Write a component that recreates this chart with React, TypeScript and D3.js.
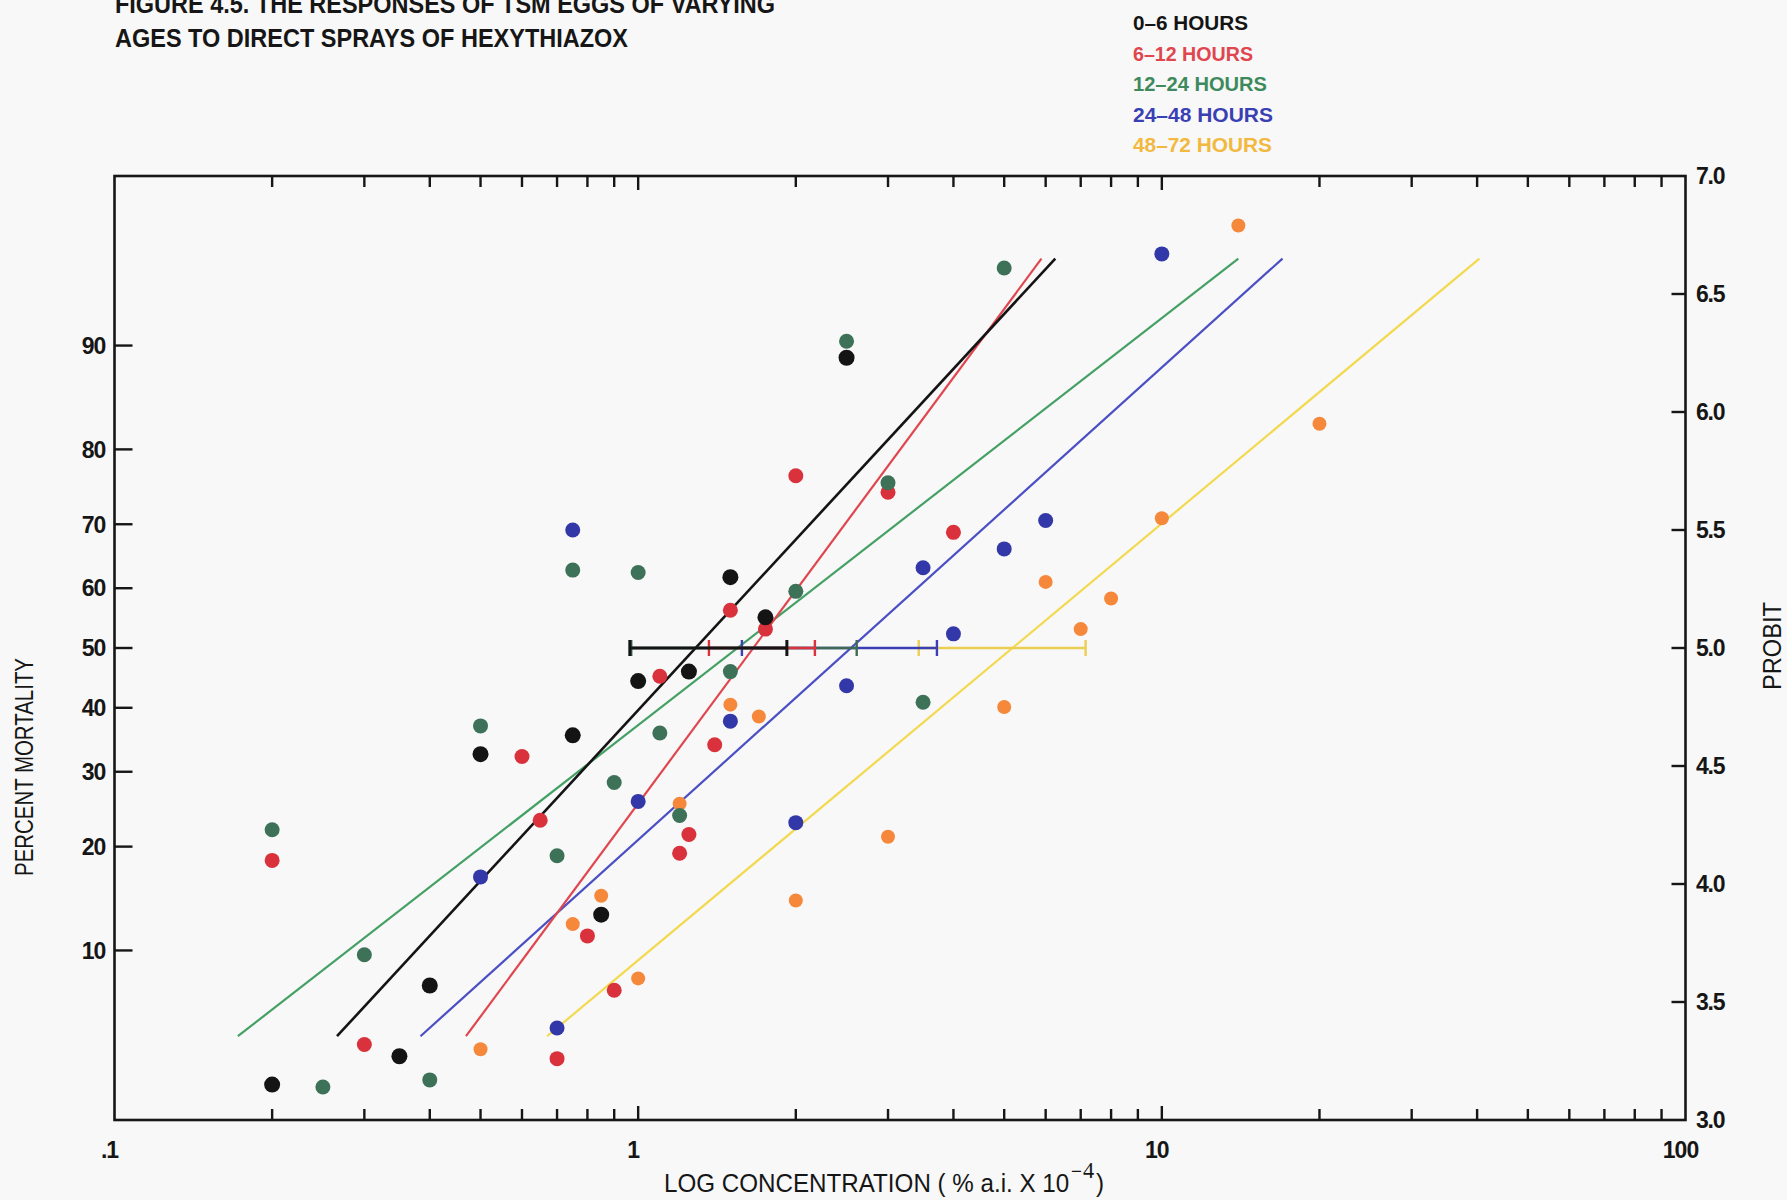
import React, { useEffect } from 'react';
import * as d3 from 'd3';

const WIDTH = 1787;
const HEIGHT = 1200;

// Series (egg age classes)
const seriesLabels = ['0–6 HOURS', '6–12 HOURS', '12–24 HOURS', '24–48 HOURS', '48–72 HOURS'];
const dotColors = ['#141414', '#d9323c', '#3e7258', '#3338a8', '#f5883a'];
const lineColors = ['#141414', '#e0464e', '#45a065', '#4a4fc4', '#f3d94e'];
const barColors = ['#141414', '#d9323c', '#3e6a54', '#3a40b4', '#eccf52'];
const legendColors = ['#141414', '#e0464e', '#3e8a5c', '#3a40b4', '#f2b840'];

// Observed responses: concentration (% a.i. x 10^-4) and response in probits
const conc06 = [0.2, 0.35, 0.4, 0.5, 0.75, 0.85, 1.0, 1.25, 1.5, 1.75, 2.5];
const probit06 = [3.15, 3.27, 3.57, 4.55, 4.63, 3.87, 4.86, 4.9, 5.3, 5.13, 6.23];

const conc612 = [0.2, 0.3, 0.6, 0.65, 0.7, 0.8, 0.9, 1.1, 1.2, 1.25, 1.4, 1.5, 1.75, 2.0, 3.0, 4.0];
const probit612 = [4.1, 3.32, 4.54, 4.27, 3.26, 3.78, 3.55, 4.88, 4.13, 4.21, 4.59, 5.16, 5.08, 5.73, 5.66, 5.49];

const conc1224 = [0.2, 0.25, 0.3, 0.4, 0.5, 0.7, 0.75, 0.9, 1.0, 1.1, 1.2, 1.5, 2.0, 2.5, 3.0, 3.5, 5.0];
const probit1224 = [4.23, 3.14, 3.7, 3.17, 4.67, 4.12, 5.33, 4.43, 5.32, 4.64, 4.29, 4.9, 5.24, 6.3, 5.7, 4.77, 6.61];

const conc2448 = [0.5, 0.7, 0.75, 1.0, 1.5, 2.0, 2.5, 3.5, 4.0, 5.0, 6.0, 10.0];
const probit2448 = [4.03, 3.39, 5.5, 4.35, 4.69, 4.26, 4.84, 5.34, 5.06, 5.42, 5.54, 6.67];

const conc4872 = [0.5, 0.75, 0.85, 1.0, 1.2, 1.5, 1.7, 2.0, 3.0, 5.0, 6.0, 7.0, 8.0, 10.0, 14.0, 20.0];
const probit4872 = [3.3, 3.83, 3.95, 3.6, 4.34, 4.76, 4.71, 3.93, 4.2, 4.75, 5.28, 5.08, 5.21, 5.55, 6.79, 5.95];

// Fitted probit lines: concentrations where each line starts and ends
const lineLowConc = [0.266, 0.469, 0.172, 0.384, 0.67];
const lineHighConc = [6.26, 5.89, 14.0, 17.0, 40.4];
const lineProbitRange = [3.355, 6.65];

// 95% fiducial limits of the LC50
const lc50Lower = [0.964, 1.365, 0.97, 1.578, 3.434];
const lc50Upper = [1.923, 2.175, 2.614, 3.72, 7.152];

// Axis ticks
const percentTicks = [10, 20, 30, 40, 50, 60, 70, 80, 90];
const probitTicks = [3.0, 3.5, 4.0, 4.5, 5.0, 5.5, 6.0, 6.5, 7.0];
const concLabelValues = [0.1, 1, 10, 100];
const concLabels = ['.1', '1', '10', '100'];

const concs = [conc06, conc612, conc1224, conc2448, conc4872];
const probits = [probit06, probit612, probit1224, probit2448, probit4872];

// Inverse of the standard normal CDF (Acklam's rational approximation)
function normInv(p: number): number {
  const a = [-39.69683028665376, 220.9460984245205, -275.9285104469687, 138.357751867269, -30.66479806614716, 2.506628277459239];
  const b = [-54.47609879822406, 161.5858368580409, -155.6989798598866, 66.80131188771972, -13.28068155288572];
  const c = [-0.007784894002430293, -0.3223964580411365, -2.400758277161838, -2.549732539343734, 4.374664141464968, 2.938163982698783];
  const d = [0.007784695709041462, 0.3224671290700398, 2.445134137142996, 3.754408661907416];
  const plow = 0.02425;
  if (p < plow) {
    const q = Math.sqrt(-2 * Math.log(p));
    return (((((c[0] * q + c[1]) * q + c[2]) * q + c[3]) * q + c[4]) * q + c[5]) /
      ((((d[0] * q + d[1]) * q + d[2]) * q + d[3]) * q + 1);
  }
  if (p > 1 - plow) {
    const q = Math.sqrt(-2 * Math.log(1 - p));
    return -(((((c[0] * q + c[1]) * q + c[2]) * q + c[3]) * q + c[4]) * q + c[5]) /
      ((((d[0] * q + d[1]) * q + d[2]) * q + d[3]) * q + 1);
  }
  const q = p - 0.5;
  const r = q * q;
  return (((((a[0] * r + a[1]) * r + a[2]) * r + a[3]) * r + a[4]) * r + a[5]) * q /
    (((((b[0] * r + b[1]) * r + b[2]) * r + b[3]) * r + b[4]) * r + 1);
}
const percentToProbit = (pct: number) => 5 + normInv(pct / 100);

const FONT = "'Liberation Sans', Arial, Helvetica, sans-serif";
const INK = '#161616';
const BG = '#f8f8f8';

export default function App() {
  useEffect(() => {
    document.body.style.margin = '0';
    document.body.style.background = BG;
  }, []);

  const left = 114.5;
  const right = 1685.5;
  const top = 176;
  const bottom = 1120;

  const x = d3.scaleLog().domain([0.1, 100]).range([left, right]);
  const y = d3.scaleLinear().domain([3, 7]).range([bottom, top]);

  const allTicks = x.ticks().filter((t) => t > 0.1 * 1.001 && t < 100 * 0.999);
  const isMajor = (t: number) => Math.abs(Math.log10(t) - Math.round(Math.log10(t))) < 1e-6;

  const line = d3
    .line<[number, number]>()
    .x((d) => x(d[0]))
    .y((d) => y(d[1]));

  // draw order: older age classes underneath
  const order = [4, 3, 2, 1, 0];
  const dotOrder = [4, 3, 1, 2, 0];
  const dotRadius = [8, 7.5, 7.5, 7.5, 7];

  return (
    <svg width={WIDTH} height={HEIGHT} style={{ display: 'block', background: BG }} fontFamily={FONT}>
      <rect x={0} y={0} width={WIDTH} height={HEIGHT} fill={BG} />

      {/* Title */}
      <text x={115} y={13} fontSize={26} fontWeight={700} fill={INK} textLength={660} lengthAdjust="spacingAndGlyphs">
        FIGURE 4.5. THE RESPONSES OF TSM EGGS OF VARYING
      </text>
      <text x={115} y={47} fontSize={26} fontWeight={700} fill={INK} textLength={513} lengthAdjust="spacingAndGlyphs">
        AGES TO DIRECT SPRAYS OF HEXYTHIAZOX
      </text>

      {/* Legend */}
      {seriesLabels.map((label, i) => (
        <text
          key={label}
          x={1133}
          y={30 + i * 30.5}
          fontSize={21}
          fontWeight={700}
          fill={legendColors[i]}
          textLength={[115, 120, 134, 140, 139][i]}
          lengthAdjust="spacingAndGlyphs"
        >
          {label}
        </text>
      ))}

      {/* Fitted lines */}
      {order.map((i) => (
        <path
          key={'line' + i}
          d={line([
            [lineLowConc[i], lineProbitRange[0]],
            [lineHighConc[i], lineProbitRange[1]],
          ]) || ''}
          stroke={lineColors[i]}
          strokeWidth={i === 0 ? 2.6 : 2.2}
          fill="none"
        />
      ))}

      {/* LC50 fiducial limits */}
      {order.map((i) => {
        const y5 = y(5);
        const x0 = x(lc50Lower[i]);
        const x1 = x(lc50Upper[i]);
        return (
          <g key={'ci' + i} stroke={barColors[i]} strokeWidth={i === 0 ? 3 : 2.4}>
            <line x1={x0} x2={x1} y1={y5} y2={y5} />
            <line x1={x0} x2={x0} y1={y5 - 8} y2={y5 + 8} />
            <line x1={x1} x2={x1} y1={y5 - 8} y2={y5 + 8} />
          </g>
        );
      })}

      {/* Observations */}
      {dotOrder.map((i) => (
        <g key={'dots' + i} fill={dotColors[i]}>
          {concs[i].map((c, j) => (
            <circle key={j} cx={x(c)} cy={y(probits[i][j])} r={dotRadius[i]} />
          ))}
        </g>
      ))}

      {/* Frame */}
      <rect x={left} y={top} width={right - left} height={bottom - top} fill="none" stroke={INK} strokeWidth={2.6} />

      {/* Concentration ticks, bottom and top */}
      {allTicks.map((t) => {
        const len = isMajor(t) ? 14 : 11;
        return (
          <g key={'xt' + t} stroke={INK} strokeWidth={2.4}>
            <line x1={x(t)} x2={x(t)} y1={bottom} y2={bottom - len} />
            <line x1={x(t)} x2={x(t)} y1={top} y2={top + len} />
          </g>
        );
      })}
      {concLabelValues.map((t, k) => (
        <text key={'xl' + t} x={x(t) - 5} y={1158} fontSize={23} fontWeight={700} textAnchor="middle" fill={INK} letterSpacing={-1}>
          {concLabels[k]}
        </text>
      ))}

      {/* Percent mortality axis (left) */}
      {percentTicks.map((p) => {
        const yy = y(percentToProbit(p));
        return (
          <g key={'pt' + p}>
            <line x1={left} x2={left + 18} y1={yy} y2={yy} stroke={INK} strokeWidth={2.4} />
            <text x={105} y={yy} dy="0.36em" fontSize={23} fontWeight={700} textAnchor="end" fill={INK} letterSpacing={-1.2}>
              {p}
            </text>
          </g>
        );
      })}

      {/* Probit axis (right) */}
      {probitTicks.map((p) => {
        const yy = y(p);
        const inner = p > 3 && p < 7;
        return (
          <g key={'rt' + p}>
            {inner && <line x1={right - 14} x2={right} y1={yy} y2={yy} stroke={INK} strokeWidth={2.4} />}
            <text x={1696} y={yy} dy="0.36em" fontSize={23} fontWeight={700} textAnchor="start" fill={INK} letterSpacing={-1.2}>
              {p.toFixed(1)}
            </text>
          </g>
        );
      })}

      {/* Axis titles */}
      <text
        transform={`translate(33, 767) rotate(-90)`}
        fontSize={26}
        textAnchor="middle"
        fill={INK}
        textLength={218}
        lengthAdjust="spacingAndGlyphs"
      >
        PERCENT MORTALITY
      </text>
      <text
        transform={`translate(1781, 646) rotate(-90)`}
        fontSize={26}
        textAnchor="middle"
        fill={INK}
        textLength={88}
        lengthAdjust="spacingAndGlyphs"
      >
        PROBIT
      </text>
      <text x={664} y={1192} fontSize={26} fill={INK} textLength={440} lengthAdjust="spacingAndGlyphs">
        <tspan>LOG CONCENTRATION ( % a.i. X 10</tspan>
        <tspan dx={2} dy={-14} fontSize={20}>−</tspan>
        <tspan dx={1} fontFamily="'Liberation Serif', 'DejaVu Serif', serif" fontSize={24}>4</tspan>
        <tspan dx={2} dy={14}>)</tspan>
      </text>
    </svg>
  );
}
